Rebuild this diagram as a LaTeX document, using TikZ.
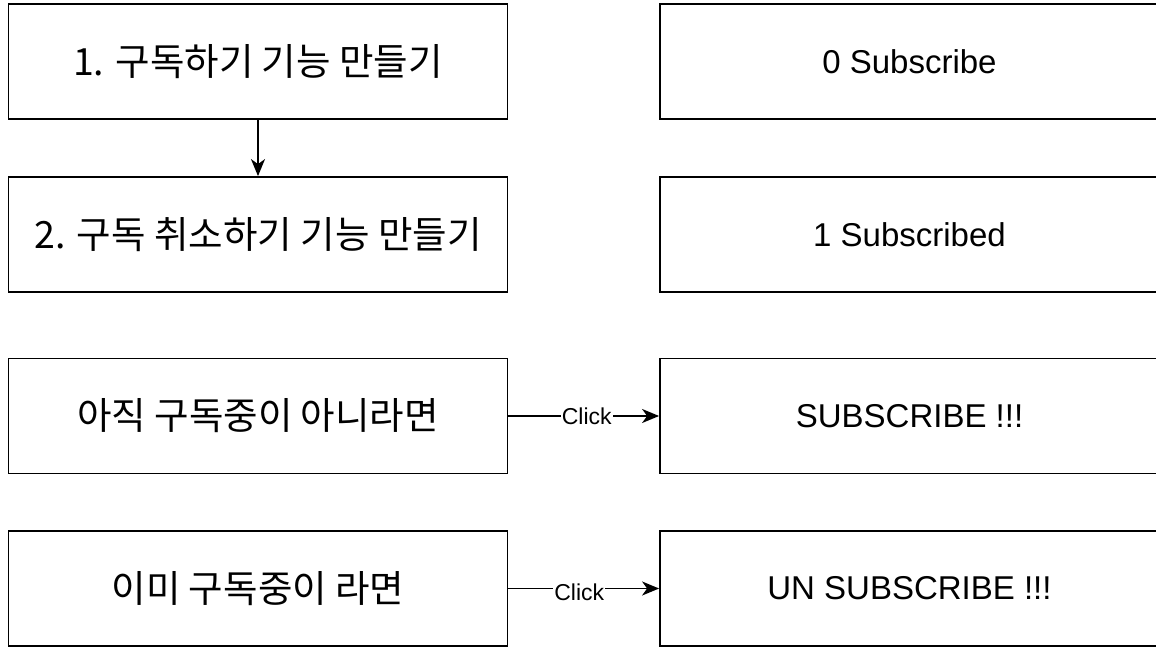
\documentclass[tikz,border=0pt]{standalone}
\usepackage{fontspec}
\setmainfont{Liberation Sans}
\newfontfamily\krfont{Noto Sans CJK KR}
\usetikzlibrary{arrows.meta}
\tikzset{
  box/.style={draw=black, line width=1.8pt, minimum width=499pt, minimum height=115pt, inner sep=0pt, fill=white},
  krbox/.style={box, font=\krfont\fontsize{37.5}{42}\selectfont},
  enbox/.style={box, font=\fontsize{33}{38}\selectfont},
  arr/.style={draw=black, line width=1.8pt, -{Stealth[length=17pt,width=14pt,inset=5pt]}},
  clicklbl/.style={fill=white, inner sep=1pt, font=\fontsize{23}{26}\selectfont}
}
\begin{document}
\begin{tikzpicture}[x=1pt,y=-1pt]
\useasboundingbox (0,0) rectangle (1156,647);
\node[krbox] (l1) at (258,61.5) {1. 구독하기 기능 만들기};
\node[krbox] (l2) at (258,234.5) {2. 구독 취소하기 기능 만들기};
\node[krbox] (l3) at (258,416) {아직 구독중이 아니라면};
\node[krbox] (l4) at (258,588.5) {이미 구독중이 라면};
\node[enbox] (r1) at (909.5,61.5) {0 Subscribe};
\node[enbox] (r2) at (909.5,234.5) {1 Subscribed};
\node[enbox] (r3) at (909.5,416) {SUBSCRIBE !!!};
\node[enbox] (r4) at (909.5,588.5) {UN SUBSCRIBE !!!};
\draw[arr] (l1.south) -- (l2.north);
\draw[arr] (l3.east) -- node[clicklbl, pos=0.52] (c3) {Click} (r3.west);
\draw[arr] (l4.east) -- node[clicklbl, pos=0.47, yshift=-4pt] (c4) {Click} (r4.west);
\end{tikzpicture}
\end{document}
